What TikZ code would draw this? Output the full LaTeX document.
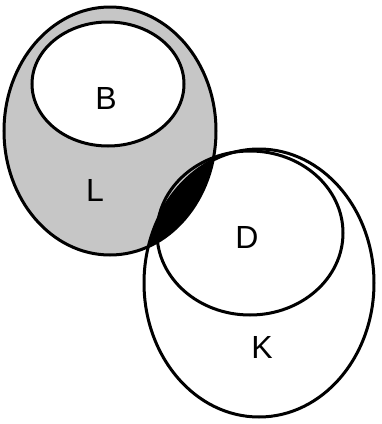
\documentclass[tikz,border=0pt]{standalone}
\usepackage{fontspec}
\setmainfont{Liberation Sans}
\begin{document}
\begin{tikzpicture}[x=1pt,y=-1pt,line width=3pt,
  etiqueta/.style={font=\fontsize{32}{34}\selectfont}]

\useasboundingbox (0,0) rectangle (382,424);

% Conjunto L (sombreado)
\fill[gray!45] (110,131) ellipse [x radius=106,y radius=124];
\fill[white] (259,283) ellipse [x radius=115,y radius=134];

% Interseccion L y K
\begin{scope}
\clip (110,131) ellipse [x radius=106,y radius=124];
\fill[black] (259,283) ellipse [x radius=115,y radius=134];
\end{scope}

% Conjunto B
\fill[white] (108,84) ellipse [x radius=76,y radius=62];

% Bordes
\draw (110,131) ellipse [x radius=106,y radius=124];
\draw (108,84) ellipse [x radius=76,y radius=62];
\draw (259,283) ellipse [x radius=115,y radius=134];
\draw (250,233) ellipse [x radius=93,y radius=82];

% Letras
\node[etiqueta] (b) at (106,98) {B};
\node[etiqueta] (l) at (95,190) {L};
\node[etiqueta] (d) at (247,237) {D};
\node[etiqueta] (k) at (262,347) {K};

\end{tikzpicture}
\end{document}
